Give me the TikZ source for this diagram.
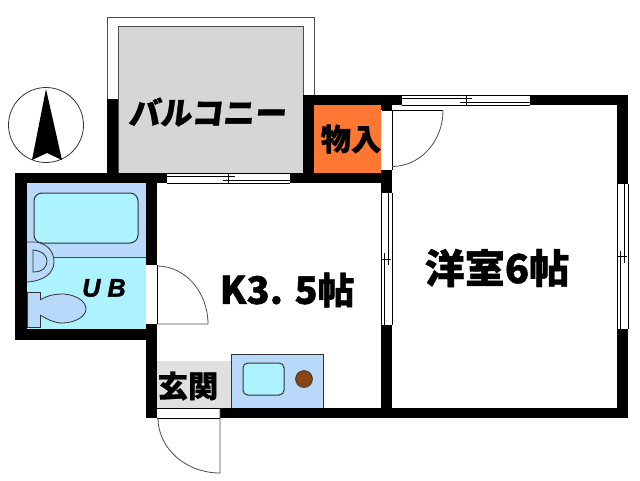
\documentclass[tikz,border=0pt]{standalone}
\usepackage{xcolor}
\usepackage{fontspec}
\newfontfamily\ubfont{Liberation Sans}[BoldItalicFeatures={FakeBold=1.5}]
\newfontfamily\jpfont{Noto Sans CJK JP}[BoldFeatures={FakeBold=1}]
\newfontfamily\jpslant{Noto Sans CJK JP}[BoldFeatures={FakeBold=1,FakeSlant=0.12}]
\definecolor{balc}{rgb}{0.84,0.84,0.84}
\definecolor{hall}{rgb}{0.88,0.88,0.88}
\definecolor{closet}{rgb}{1,0.47,0.2}
\definecolor{paleblue}{rgb}{0.72,0.85,0.98}
\definecolor{palecyan}{rgb}{0.68,0.95,1}
\definecolor{burner}{rgb}{0.55,0.27,0.07}
\tikzset{
  wall/.style={fill=black,draw=none},
  thinline/.style={draw=black,line width=0.2mm},
  greyline/.style={draw=black!70,line width=0.2mm},
  fixture/.style={draw=black!80,line width=0.2mm,fill=paleblue},
  basin/.style={draw=black!80,line width=0.25mm,fill=palecyan,rounded corners=2mm},
  label/.style={inner sep=0pt,text=black}
}
\begin{document}
\begin{tikzpicture}[x=0.25mm,y=-0.25mm]
  \useasboundingbox (0,0) rectangle (640,480);
  \fill[white] (0,0) rectangle (640,480);

  % floor colours
  \draw[greyline] (107,100) -- (107,17) -- (314,17) -- (314,95);
  \fill[balc] (118,26) rectangle (303,173);
  \draw[greyline] (118,173) -- (118,26) -- (303,26) -- (303,95);
  \fill[closet] (314,105) rectangle (381,173);
  \fill[paleblue] (27,183) rectangle (146,257);
  \fill[palecyan] (27,257) rectangle (146,329);
  \draw[greyline] (27,257) -- (146,257);
  \fill[hall] (157,361) rectangle (231,408);

  % walls
  \foreach \xa/\ya/\xb/\yb in {107/99/118/173,303/95/314/173,303/95/402/105,
      381/95/392/110,381/170/392/193,290/173/392/183,15/173/167/183,15/173/27/340,
      15/329/157/340,146/173/157/265,146/324/157/418,530/95/628/105,617/95/628/184,
      617/329/628/418,381/325/392/418,220/408/628/418}
    \fill[wall] (\xa,\ya) rectangle (\xb,\yb);

  % sliding windows, horizontal
  \foreach \xa/\xb/\ya in {167/290/173,402/530/95} {
    \fill[white] (\xa,\ya) rectangle (\xb,\ya+10);
    \draw[thinline] (\xa,\ya) -- (\xb,\ya) (\xa,\ya+10) -- (\xb,\ya+10);
    \draw[thinline] (\xa,\ya+3) -- ({(\xa+\xb)/2+6},\ya+3);
    \draw[thinline] ({(\xa+\xb)/2-6},\ya+7) -- (\xb,\ya+7);
    \draw[thinline] ({(\xa+\xb)/2},\ya+1) -- ({(\xa+\xb)/2},\ya+10);
  }
  % sliding windows, vertical
  \foreach \ya/\yb/\xa in {193/325/381,184/329/617} {
    \fill[white] (\xa,\ya) rectangle (\xa+11,\yb);
    \draw[thinline] (\xa,\ya) -- (\xa,\yb) (\xa+11,\ya) -- (\xa+11,\yb);
    \draw[thinline] (\xa+7,\ya) -- (\xa+7,{(\ya+\yb)/2+6});
    \draw[thinline] (\xa+3,{(\ya+\yb)/2-6}) -- (\xa+3,\yb);
    \draw[thinline] (\xa,{(\ya+\yb)/2}) -- (\xa+10,{(\ya+\yb)/2});
  }

  % doors
  \fill[white] (382,110.5) rectangle (392,170);
  \draw[thinline] (382,110.5) -- (443,110.5) (392,110.5) -- (392,170);
  \draw[greyline] (443,110.5) arc[start angle=0,end angle=90,x radius=51,y radius=56];
  \draw[greyline] (157,324) -- (208,324) arc[start angle=0,end angle=-90,x radius=51,y radius=58];
  \fill[white] (146,265.5) rectangle (157,323.5);
  \draw[thinline] (157,265) -- (157,324);
  \draw[thinline] (157,408) -- (220,408) (157,418) -- (220,418);
  \draw[greyline] (220,408) -- (220,473) arc[start angle=90,end angle=180,x radius=62,y radius=55];

  % bath
  \draw[basin] (34,193) rectangle (138,243);
  \draw[fixture] (27,242) -- (36,242) .. controls (48,244) and (54,252) .. (54,262)
    .. controls (54,273) and (44,281) .. (27,282);
  \draw[fixture,fill=none] (33,250) .. controls (43,251) and (47,256) .. (47,261)
    .. controls (47,267) and (43,272) .. (33,272) -- cycle;
  \draw[fixture] (27,292) rectangle (40,327);
  \draw[fixture] (40,300) .. controls (48,295) and (56,294) .. (64,294)
    .. controls (76,295) and (86,301) .. (86,309)
    .. controls (86,317) and (74,323) .. (62,323)
    .. controls (54,323) and (47,319) .. (40,315);

  % kitchen
  \draw[fixture] (231,408) -- (231,354) -- (323,354) -- (323,408);
  \draw[basin,rounded corners=1.2mm] (243,363) rectangle (284,395);
  \node[circle,draw=black!80,fill=burner,minimum size=4.2mm,inner sep=0pt,line width=0.2mm] (stove) at (304,379) {};

  % north mark
  \draw[black!80,line width=0.2mm] (46,125) circle[radius=37.5];
  \fill[black] (46,89) -- (62,160) -- (47,153) -- (32,160) -- cycle;

  % labels
  \node[label,font=\jpslant\bfseries\fontsize{22.5}{22.5}\selectfont] (balcony) at (207,112) {バルコニー};
  \node[label,font=\jpfont\bfseries\fontsize{21.5}{21.5}\selectfont] (storage) at (351,139) {物入};
  \node[label,font=\jpfont\bfseries\fontsize{28.5}{28.5}\selectfont] (room) at (497,268) {洋室6帖};
  \node[label,font=\jpfont\bfseries\fontsize{26}{26}\selectfont] (kitchen) at (287,290) {{\fontsize{27}{27}\selectfont K3. 5}帖};
  \node[label,font=\jpfont\bfseries\fontsize{21.5}{21.5}\selectfont] (entry) at (188,386) {玄関};
  \node[label,font=\ubfont\bfseries\itshape\fontsize{18}{18}\selectfont] (bath) at (104,288) {U B};
\end{tikzpicture}
\end{document}
